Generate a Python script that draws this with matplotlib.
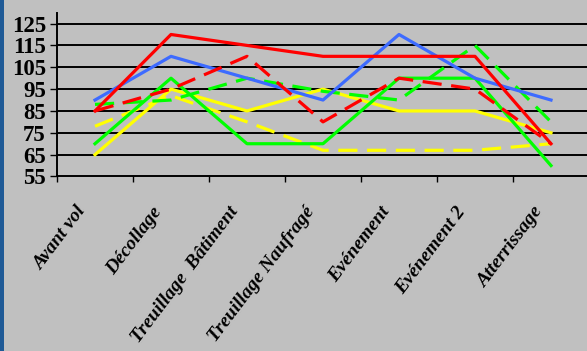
import matplotlib
matplotlib.use("Agg")
import matplotlib.pyplot as plt
from matplotlib.patches import Rectangle

# flight phases along the x axis
phases = ["Avant vol", "Décollage", "Treuillage  Bâtiment", "Treuillage Naufragé",
          "Evénement", "Evénement 2", "Atterrissage"]

# readings per phase (one list per curve)
red_solid = [85, 120, 115, 110, 110, 110, 70]
red_dashed = [85, 95, 110, 80, 100, 95, 70]
blue_solid = [90, 110, 100, 90, 120, 100, 90]
green_solid = [70, 100, 70, 70, 100, 100, 60]
green_dashed = [88, 90, 100, 94, 90, 115, 80]
yellow_solid = [65, 95, 85, 95, 85, 85, 75]
yellow_dashed = [78, 92, 80, 67, 67, 67, 70]

y_ticks = [55, 65, 75, 85, 95, 105, 115, 125]

W, H = 587, 351
fig = plt.figure(figsize=(W / 100, H / 100), dpi=100)
fig.patch.set_facecolor("#c0c0c0")
fig.patches.append(Rectangle((0, 0), 3.5 / W, 1, transform=fig.transFigure,
                             facecolor="#1f5a96", edgecolor="none"))

ax = fig.add_axes([57 / W, 1 - 176.5 / H, 532 / W, 163.2 / H])
ax.set_facecolor("#c0c0c0")

x = list(range(len(phases)))
lw = 2.3
dash = (6, 3)
ax.plot(x, yellow_solid, color="#ffff00", lw=lw)
ax.plot(x, yellow_dashed, color="#ffff00", lw=lw, dashes=dash)
ax.plot(x, green_solid, color="#00ff00", lw=lw)
ax.plot(x, green_dashed, color="#00ff00", lw=lw, dashes=dash)
ax.plot(x, blue_solid, color="#3d6bff", lw=lw)
ax.plot(x, red_dashed, color="#ff0000", lw=lw, dashes=dash)
ax.plot(x, red_solid, color="#ff0000", lw=lw)

ax.set_xlim(-0.5, len(phases) - 0.5)
ax.set_ylim(55, 129.7)

ax.set_yticks(y_ticks)
ax.set_yticklabels([str(v) for v in y_ticks], fontfamily="Liberation Serif",
                   fontweight="bold", fontsize=16.5)
for v in y_ticks[1:]:
    ax.axhline(v, color="black", lw=1.4, zorder=0.5)

ax.set_xticks([i - 0.5 for i in range(len(phases) + 1)])
ax.set_xticklabels([])
ax.tick_params(axis="x", direction="out", length=4, width=1, color="black")
ax.tick_params(axis="y", direction="out", length=5, width=1, color="black", pad=3)

for side in ["top", "right"]:
    ax.spines[side].set_visible(False)
for side in ["left", "bottom"]:
    ax.spines[side].set_linewidth(1.4)
    ax.spines[side].set_color("black")

for i, name in enumerate(phases):
    ax.annotate(name, xy=(i, 0), xycoords=("data", "axes fraction"),
                xytext=(-19, -27), textcoords="offset pixels",
                rotation=53, rotation_mode="anchor", ha="right", va="top",
                fontfamily="Liberation Serif", fontweight="bold", fontstyle="italic",
                fontsize=14, annotation_clip=False)

fig.savefig("out.png", dpi=100, facecolor=fig.get_facecolor())
